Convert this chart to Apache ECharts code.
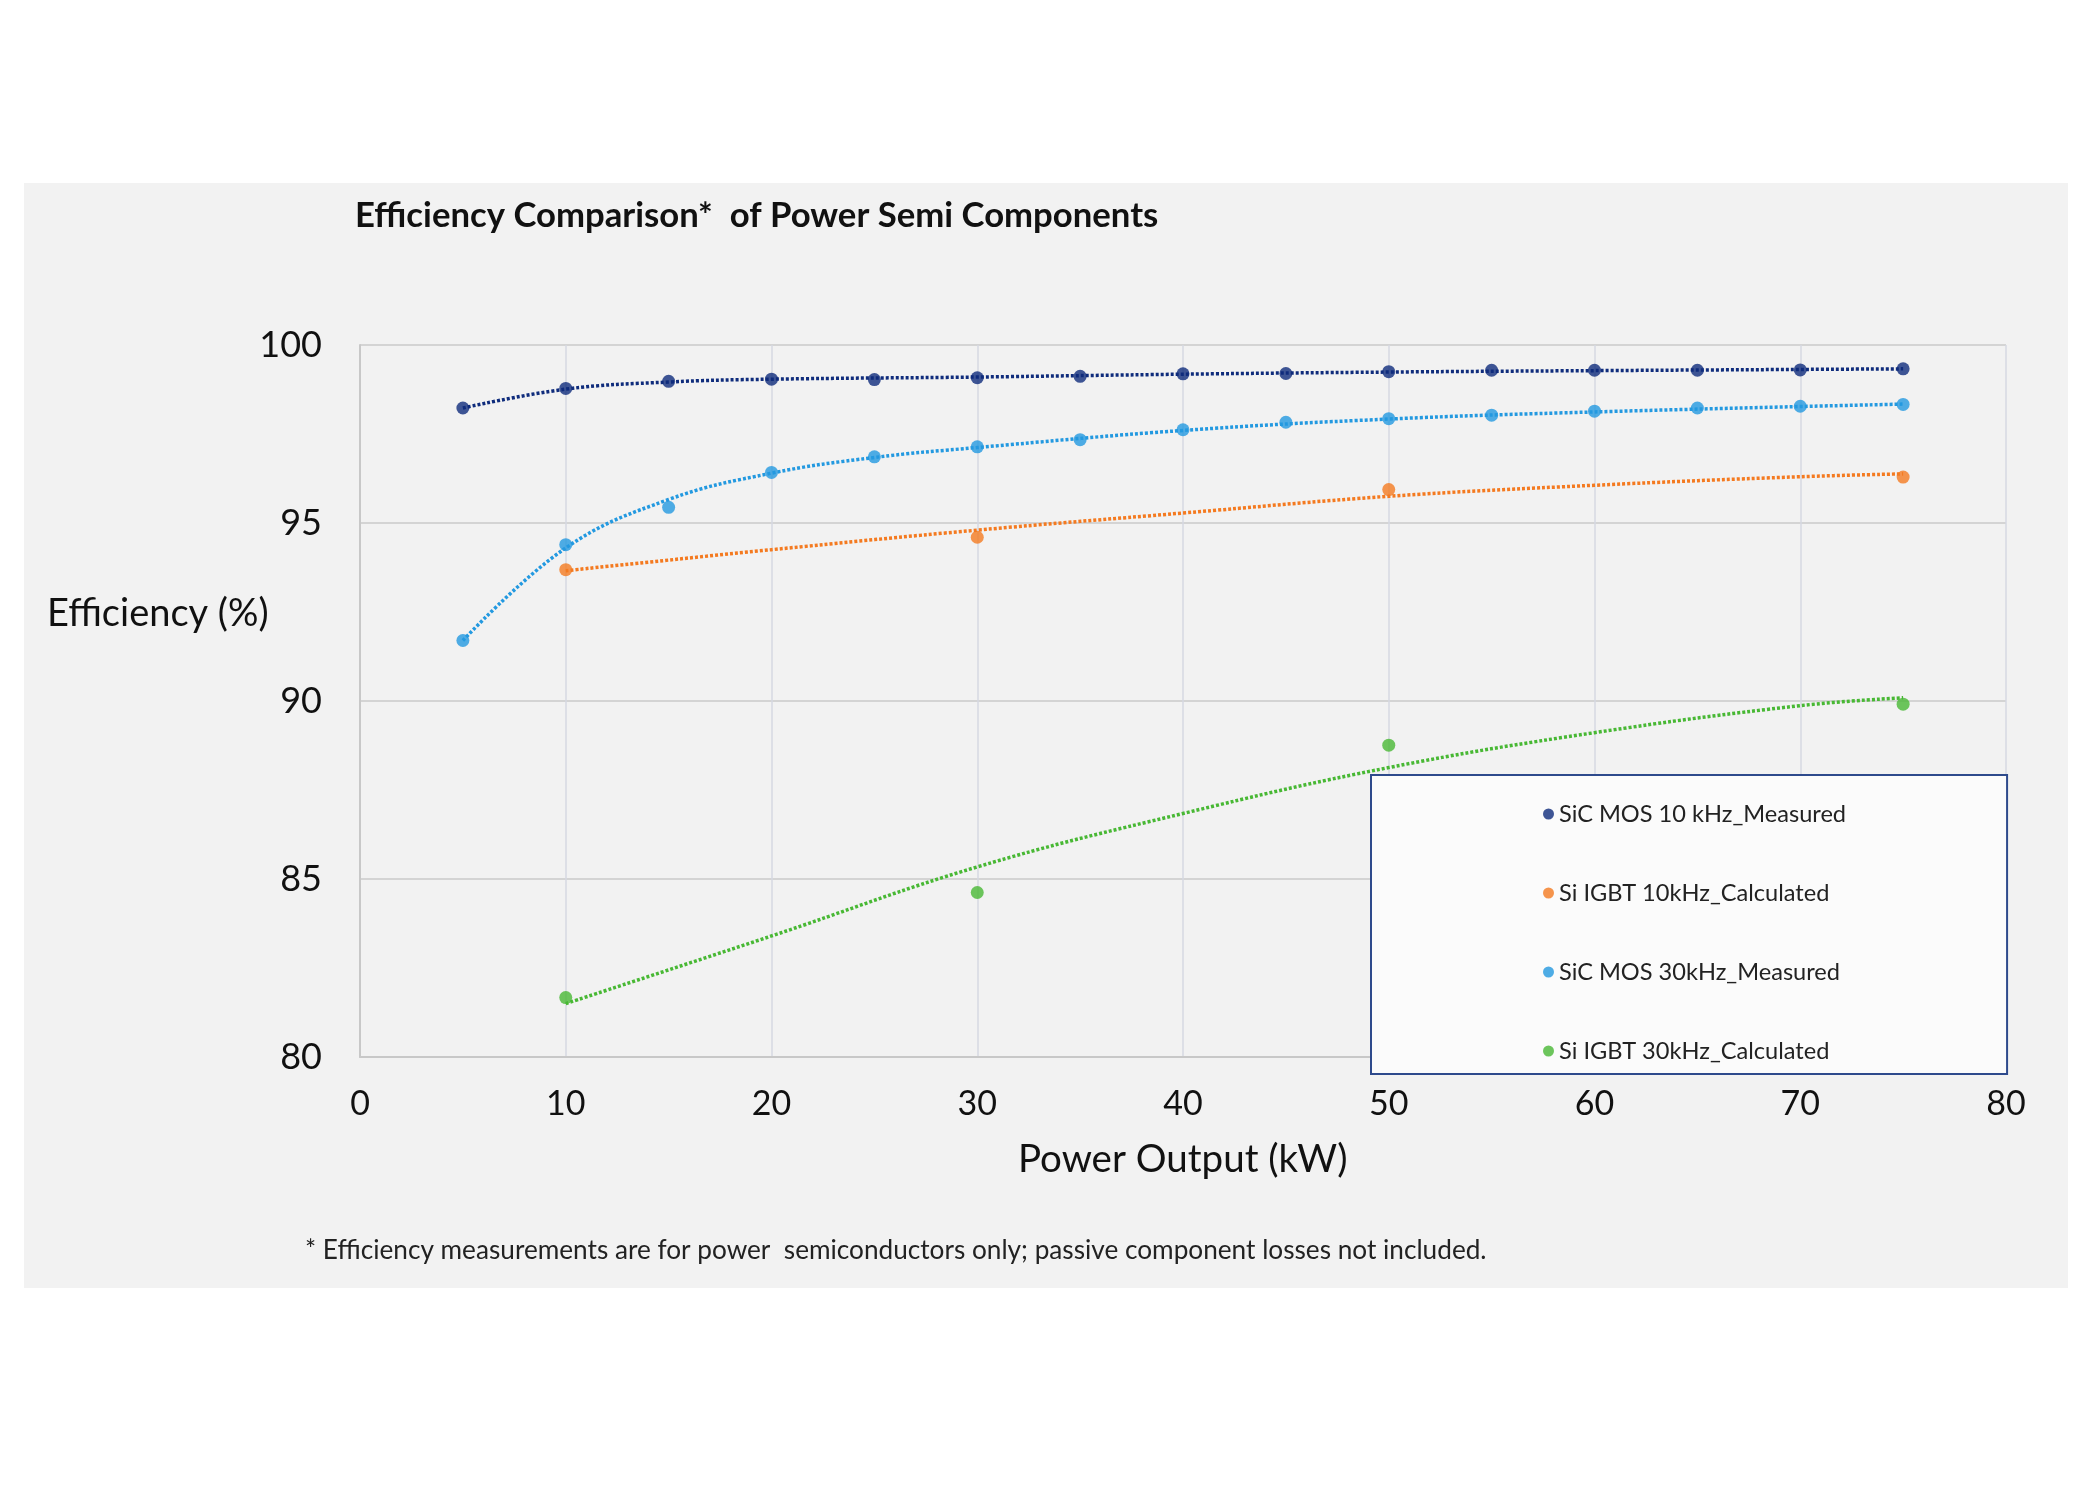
<!DOCTYPE html>
<html>
<head>
<meta charset="utf-8">
<script src="https://cdn.jsdelivr.net/npm/echarts@6/dist/echarts.min.js"></script>
<style>
html,body{margin:0;padding:0;background:#ffffff;}
#chart{width:2100px;height:1500px;}
</style>
</head>
<body>
<div id="chart"></div>
<script>
// ---- data ----
const seriesNames = ['SiC MOS 10 kHz_Measured', 'Si IGBT 10kHz_Calculated', 'SiC MOS 30kHz_Measured', 'Si IGBT 30kHz_Calculated'];

const sicMos10X = [5, 10, 15, 20, 25, 30, 35, 40, 45, 50, 55, 60, 65, 70, 75];
const sicMos10Y = [98.23, 98.78, 98.98, 99.04, 99.03, 99.08, 99.12, 99.19, 99.2, 99.25, 99.29, 99.29, 99.29, 99.3, 99.33];

const sicMos30X = [5, 10, 15, 20, 25, 30, 35, 40, 45, 50, 55, 60, 65, 70, 75];
const sicMos30Y = [91.7, 94.39, 95.44, 96.42, 96.86, 97.14, 97.34, 97.62, 97.83, 97.93, 98.03, 98.14, 98.23, 98.28, 98.33];

const siIgbt10X = [10, 30, 50, 75];
const siIgbt10Y = [93.69, 94.6, 95.94, 96.29];

const siIgbt30X = [10, 30, 50, 75];
const siIgbt30Y = [81.67, 84.62, 88.76, 89.91];

// dotted trendlines
const trendSicMos10X = [5, 10, 15, 20, 30, 40, 50, 60, 75];
const trendSicMos10Y = [98.23, 98.76, 98.96, 99.04, 99.1, 99.18, 99.24, 99.28, 99.33];
const trendSicMos30X = [5, 10, 15, 20, 25, 30, 40, 50, 60, 75];
const trendSicMos30Y = [91.7, 94.3, 95.66, 96.4, 96.84, 97.12, 97.6, 97.92, 98.12, 98.34];
const trendSiIgbt10X = [10, 20, 30, 40, 50, 60, 70, 75];
const trendSiIgbt10Y = [93.66, 94.25, 94.8, 95.28, 95.75, 96.06, 96.3, 96.38];
const trendSiIgbt30X = [10, 20, 30, 40, 50, 60, 70, 75];
const trendSiIgbt30Y = [81.5, 83.4, 85.34, 86.84, 88.13, 89.11, 89.87, 90.09];

const xTicks = [0, 80, 10];
const yTicks = [80, 100, 5];

const colors = ['#0f2c7c', '#f47a20', '#2399e0', '#48b834'];

const FONT = 'Lato';

function pairs(xs, ys) { return xs.map((x, i) => [x, ys[i]]); }

const pointSets = [
  pairs(sicMos10X, sicMos10Y),
  pairs(siIgbt10X, siIgbt10Y),
  pairs(sicMos30X, sicMos30Y),
  pairs(siIgbt30X, siIgbt30Y)
];
const trendSets = [
  pairs(trendSicMos10X, trendSicMos10Y),
  pairs(trendSiIgbt10X, trendSiIgbt10Y),
  pairs(trendSicMos30X, trendSicMos30Y),
  pairs(trendSiIgbt30X, trendSiIgbt30Y)
];

const series = [];
trendSets.forEach((d, i) => {
  series.push({
    name: 'trend' + i,
    type: 'line',
    data: d,
    smooth: 0.4,
    showSymbol: false,
    silent: true,
    z: 2,
    lineStyle: { color: colors[i], width: 3.5, type: [3, 2] }
  });
});
pointSets.forEach((d, i) => {
  series.push({
    name: seriesNames[i],
    type: 'scatter',
    data: d,
    symbol: 'circle',
    symbolSize: 13,
    z: 3,
    itemStyle: { color: colors[i] }
  });
});

const chart = echarts.init(document.getElementById('chart'), null, { renderer: 'canvas' });
chart.setOption({
  animation: false,
  backgroundColor: '#ffffff',
  textStyle: { fontFamily: FONT },
  graphic: [
    { type: 'rect', z: -10, shape: { x: 24, y: 183, width: 2044, height: 1105 }, style: { fill: '#f2f2f2' } },
    { type: 'text', left: 355, top: 198, style: { text: 'Efficiency Comparison*  of Power Semi Components', font: 'bold 34.7px Lato', fill: '#111111' } },
    { type: 'text', left: 47, top: 595, style: { text: 'Efficiency (%)', font: '38px Lato', fill: '#111111' } },
    { type: 'text', left: 1018, top: 1140, style: { text: 'Power Output (kW)', font: '38.5px Lato', fill: '#111111' } },
    { type: 'text', left: 305, top: 1238, style: { text: '* Efficiency measurements are for power  semiconductors only; passive component losses not included.', font: '26.2px Lato', fill: '#222222' } }
  ],
  grid: { left: 360, right: 94, top: 345, bottom: 443, containLabel: false },
  xAxis: {
    type: 'value', min: xTicks[0], max: xTicks[1], interval: xTicks[2],
    axisLine: { show: true, lineStyle: { color: '#c8c8c8', width: 2 } },
    axisTick: { show: false },
    axisLabel: { fontSize: 34, color: '#111111', margin: 30, fontFamily: FONT },
    splitLine: { show: true, lineStyle: { color: '#d6d8e2', width: 1.5 } }
  },
  yAxis: {
    type: 'value', min: yTicks[0], max: yTicks[1], interval: yTicks[2],
    axisLine: { show: true, lineStyle: { color: '#c8c8c8', width: 2 } },
    axisTick: { show: false },
    axisLabel: { fontSize: 36, color: '#111111', margin: 38, fontFamily: FONT },
    splitLine: { show: true, lineStyle: { color: '#d4d4d4', width: 2 } }
  },
  legend: {
    data: seriesNames,
    orient: 'vertical',
    left: 1371, top: 775,
    icon: 'circle',
    itemWidth: 11, itemHeight: 11,
    itemGap: 55,
    padding: [27, 161, 11, 172],
    backgroundColor: '#fbfbfb',
    borderColor: '#2e4a8c',
    borderWidth: 2,
    textStyle: { fontSize: 23.6, lineHeight: 24, color: '#222222', fontFamily: FONT }
  },
  series: series
});
</script>
</body>
</html>
